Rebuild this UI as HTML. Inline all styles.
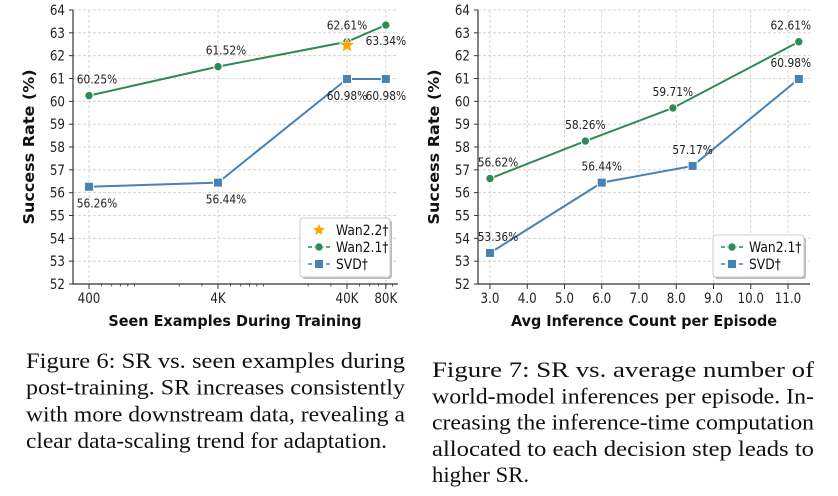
<!DOCTYPE html>
<html><head><meta charset="utf-8"><style>
body{margin:0;background:#fff;width:838px;height:491px;overflow:hidden}
svg text{font-family:"DejaVu Sans","Liberation Sans",sans-serif}
.cap{font-family:"Liberation Serif",serif;font-size:22px;fill:#111}
</style></head><body>
<svg id="s" width="838" height="491" xmlns="http://www.w3.org/2000/svg"></svg>
<script>
// Chart 1 data
const c1Cats=[400,4000,40000,80000];
const c1Labels=["400","4K","40K","80K"];
const c1Wan21=[60.25,61.52,62.61,63.34];
const c1Svd=[56.26,56.44,60.98,60.98];
const c1Wan22X=[40000];
const c1Wan22=[62.45];
// Chart 2 data
const c2WanX=[3.0,5.56,7.91,11.29];
const c2Wan=[56.62,58.26,59.71,62.61];
const c2SvdX=[3.0,6.0,8.44,11.29];
const c2Svd=[53.36,56.44,57.17,60.98];
const c2Ticks=[3,4,5,6,7,8,9,10,11];
const yTicks=[52,53,54,55,56,57,58,59,60,61,62,63,64];

const S=document.getElementById('s');const NS='http://www.w3.org/2000/svg';
function el(t,a,p){const e=document.createElementNS(NS,t);for(const k in a)e.setAttribute(k,a[k]);(p||S).appendChild(e);return e;}
function txt(g,x,y,str,size,anchor,weight,sx){
  const e=el('text',{x:0,y:0,transform:`translate(${x},${y}) scale(${sx||0.85},1)`,'text-anchor':anchor||'start','font-size':size,fill:'#222','font-weight':weight||'normal'},g);
  e.textContent=str;return e;}
const GREEN='#2e8b57',BLUE='#4682b4';
const Y0=10,Y1=284;
const yS=v=>Y1-(v-52)/12*(Y1-Y0);

function axes(g,L,R,xlab,xlabX){
  yTicks.forEach(v=>{
    const y=yS(v);
    const gl=el('line',{x1:L,x2:R,y1:y,y2:y,stroke:'#ccc','stroke-dasharray':'3,2','stroke-width':0.8},g);
    
    el('line',{x1:L-4,x2:L,y1:y,y2:y,stroke:'#333'},g);
    const t=txt(g,L-8,y+5,String(v),14,'end');
    
  });
  el('line',{x1:L,x2:L,y1:Y0,y2:Y1,stroke:'#333','stroke-width':1.2},g);
  el('line',{x1:L,x2:R,y1:Y1,y2:Y1,stroke:'#333','stroke-width':1.2},g);
  const yl=el('text',{x:0,y:0,transform:`translate(${L-39},${(Y0+Y1)/2}) rotate(-90) scale(1,0.93)`,'text-anchor':'middle','font-size':16,'font-weight':'bold',fill:'#111'},g);
  yl.textContent='Success Rate (%)';
  const xl=txt(g,xlabX,326,xlab,15.5,'middle','bold',0.93);
  xl.setAttribute('fill','#111');
}
function line(g,pts,color,name){
  const p=el('polyline',{points:pts.map(q=>q.join(',')).join(' '),fill:'none',stroke:color,'stroke-width':2},g);
  
}
function circ(g,x,y){const c=el('circle',{cx:x,cy:y,r:4.2,fill:GREEN,stroke:'#fff','stroke-width':1},g);}
function sq(g,x,y){const r=el('rect',{x:x-4.5,y:y-4.5,width:9,height:9,fill:BLUE,stroke:'#fff','stroke-width':1},g);}
function star(g,x,y,r){let d='';for(let i=0;i<10;i++){const a=-Math.PI/2+i*Math.PI/5,rr=i%2?r*0.45:r;d+=(i?'L':'M')+(x+rr*Math.cos(a)).toFixed(2)+','+(y+rr*Math.sin(a)).toFixed(2);}
  const p=el('path',{d:d+'Z',fill:'#ffa500',stroke:'#fff','stroke-width':0.6},g);}
function lbl(g,x,y,t){const e=txt(g,x,y,t,12.5,'middle');}
function legend(g,x,y,w,h,items){
  const lg=el('g',{},g);
  el('rect',{x:x+2,y:y+2,width:w,height:h,rx:3,fill:'#bbb'},lg);
  el('rect',{x:x,y:y,width:w,height:h,rx:3,fill:'#fff',stroke:'#ccc'},lg);
  items.forEach((it,i)=>{
    const yy=y+12+i*17;
    if(it.k!=='star'){el('line',{x1:x+8,x2:x+30,y1:yy,y2:yy,stroke:it.c,'stroke-width':1.5,'stroke-dasharray':'4,2'},lg);}
    if(it.k==='star')star(lg,x+19,yy,7);else if(it.k==='c')circ(lg,x+19,yy);else sq(lg,x+19,yy);
    const t=txt(lg,x+36,yy+5,it.t,14.5,'start');t.setAttribute('fill','#111');
    
  });
}

// Chart 1
const g1=el('g',{});
const L1=73,R1=398;
const x1S=v=>89+(Math.log10(v)-Math.log10(400))*129;
axes(g1,L1,R1,'Seen Examples During Training',235);
for(let d=100;d<=100000;d*=10)for(let m=2;m<=9;m++){const v=d*m;const x=x1S(v);if(x>L1&&x<R1)el('line',{x1:x,x2:x,y1:Y1,y2:Y1+2.5,stroke:'#333','stroke-width':0.8},g1);}
c1Cats.forEach((v,i)=>{const x=x1S(v);
  el('line',{x1:x,x2:x,y1:Y0,y2:Y1,stroke:'#ccc','stroke-dasharray':'3,2','stroke-width':0.8},g1);
  el('line',{x1:x,x2:x,y1:Y1,y2:Y1+5,stroke:'#333'},g1);
  const t=txt(g1,x,Y1+19,c1Labels[i],14,'middle');
  });
line(g1,c1Cats.map((v,i)=>[x1S(v),yS(c1Wan21[i])]),GREEN,'wan21-line');
line(g1,c1Cats.map((v,i)=>[x1S(v),yS(c1Svd[i])]),BLUE,'svd-line');
c1Cats.forEach((v,i)=>{circ(g1,x1S(v),yS(c1Wan21[i]));sq(g1,x1S(v),yS(c1Svd[i]));});
c1Wan22X.forEach((v,i)=>star(g1,x1S(v),yS(c1Wan22[i]),8));
const dx1=[8,8,0,0];
c1Cats.forEach((v,i)=>{const x=x1S(v)+dx1[i];
  lbl(g1,x,yS(c1Wan21[i])+(i==3?20:-12),c1Wan21[i].toFixed(2)+'%');
  lbl(g1,x,yS(c1Svd[i])+21,c1Svd[i].toFixed(2)+'%');});
legend(g1,300,218,90,59,[{k:'star',t:'Wan2.2†',c:'#ffa500'},{k:'c',t:'Wan2.1†',c:GREEN},{k:'s',t:'SVD†',c:BLUE}]);

// Chart 2
const g2=el('g',{});
const L2=478,R2=810;
const x2S=v=>490+(v-3)*37.25;
axes(g2,L2,R2,'Avg Inference Count per Episode',644);
c2Ticks.forEach(v=>{const x=x2S(v);
  el('line',{x1:x,x2:x,y1:Y0,y2:Y1,stroke:'#ccc','stroke-dasharray':'3,2','stroke-width':0.8},g2);
  el('line',{x1:x,x2:x,y1:Y1,y2:Y1+5,stroke:'#333'},g2);
  const t=txt(g2,x,Y1+19,v.toFixed(1),14,'middle');
  });
line(g2,c2WanX.map((v,i)=>[x2S(v),yS(c2Wan[i])]),GREEN,'wan21-line');
line(g2,c2SvdX.map((v,i)=>[x2S(v),yS(c2Svd[i])]),BLUE,'svd-line');
c2WanX.forEach((v,i)=>circ(g2,x2S(v),yS(c2Wan[i])));
c2SvdX.forEach((v,i)=>sq(g2,x2S(v),yS(c2Svd[i])));
c2WanX.forEach((v,i)=>lbl(g2,x2S(v)+(i==0?8:(i==3?-8:0)),yS(c2Wan[i])-12,c2Wan[i].toFixed(2)+'%'));
c2SvdX.forEach((v,i)=>lbl(g2,x2S(v)+(i==0?8:(i==3?-8:0)),yS(c2Svd[i])-12,c2Svd[i].toFixed(2)+'%'));
legend(g2,713,235,91,42,[{k:'c',t:'Wan2.1†',c:GREEN},{k:'s',t:'SVD†',c:BLUE}]);

// Captions
const cap1=[["Figure 6: SR vs.  seen examples during",379],["post-training.  SR increases consistently",379],["with more downstream data, revealing a",379],["clear data-scaling trend for adaptation.",361]];
cap1.forEach((c,i)=>{const a={x:26,y:368+i*26.7,class:'cap',textLength:c[1],lengthAdjust:'spacingAndGlyphs'};
  const t=el('text',a);t.textContent=c[0];});
const cap2=[["Figure 7:  SR vs.   average number of",382],["world-model inferences per episode. In-",382],["creasing the inference-time computation",382],["allocated to each decision step leads to",382],["higher SR.",97]];
cap2.forEach((c,i)=>{const a={x:432,y:377+i*26.3,class:'cap',textLength:c[1],lengthAdjust:'spacingAndGlyphs'};
  const t=el('text',a);t.textContent=c[0];});
</script>
</body></html>
